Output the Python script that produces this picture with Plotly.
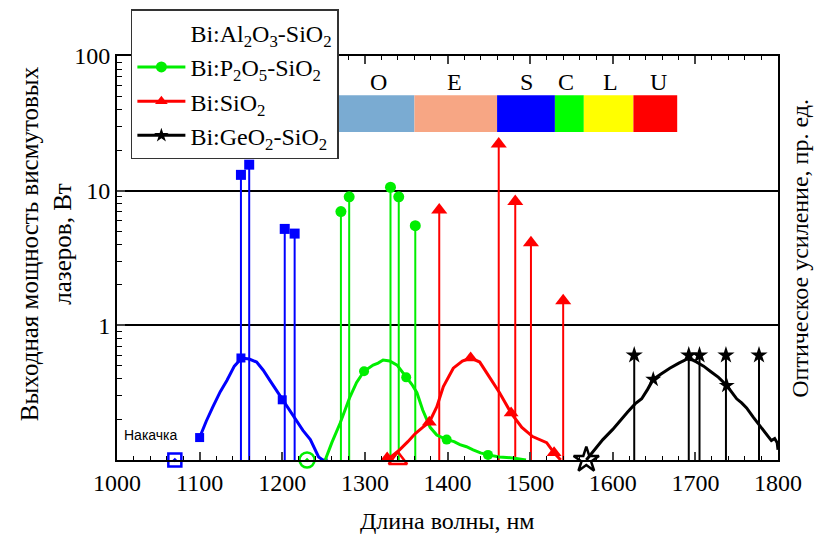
import plotly.graph_objects as go

# ---------------- data ----------------
# laser output lines (wavelength nm, power W)
al_laser_wl = [1150, 1160, 1203, 1215]
al_laser_pw = [13.1, 15.6, 5.2, 4.8]
p_laser_wl = [1271, 1281, 1331, 1341, 1361]
p_laser_pw = [7.0, 9.0, 10.6, 9.0, 5.5]
si_laser_wl = [1390, 1462, 1482, 1501, 1540]
si_laser_pw = [7.2, 22.2, 8.3, 4.1, 1.52]
ge_laser_wl = [1626, 1692, 1705, 1737, 1777]
ge_laser_pw = [0.6, 0.6, 0.6, 0.6, 0.6]

# optical gain curves (arb. units)
al_gain_wl = [1100, 1108, 1116, 1125, 1133, 1142, 1151, 1160, 1169, 1177, 1185, 1193,
              1200, 1209, 1217, 1225, 1234, 1244, 1249, 1255]
al_gain = [0.22, 0.38, 0.52, 0.67, 0.78, 0.92, 1.0, 0.99, 0.96, 0.88, 0.78, 0.68,
           0.59, 0.49, 0.39, 0.29, 0.2, 0.03, 0.0, 0.0]
p_gain_wl = [1252, 1260, 1270, 1282, 1290, 1299, 1310, 1316, 1322, 1330, 1339, 1350,
             1357, 1363, 1370, 1379, 1387, 1399, 1408, 1415, 1423, 1431, 1440, 1449,
             1463, 1479, 1495]
p_gain = [0.0, 0.17, 0.36, 0.62, 0.76, 0.87, 0.93, 0.95, 0.98, 0.97, 0.93, 0.81,
          0.74, 0.66, 0.49, 0.32, 0.245, 0.2, 0.18, 0.15, 0.13, 0.1, 0.07, 0.05,
          0.03, 0.02, 0.0]
si_gain_wl = [1327, 1335, 1342, 1352, 1361, 1370, 1378, 1387, 1395, 1407, 1418, 1428,
              1439, 1451, 1463, 1477, 1490, 1503, 1520, 1529, 1537]
si_gain = [0.0, 0.05, 0.1, 0.18, 0.26, 0.32, 0.37, 0.52, 0.72, 0.9, 0.97, 1.0,
           0.96, 0.81, 0.66, 0.46, 0.32, 0.23, 0.17, 0.07, 0.0]
ge_gain_wl = [1568, 1575, 1588, 1600, 1609, 1618, 1627, 1635, 1642, 1649, 1658, 1669,
              1680, 1690, 1697, 1702, 1710, 1718, 1728, 1738, 1745, 1750, 1756, 1762,
              1770, 1778, 1784, 1788, 1792, 1796, 1799, 1800]
ge_gain = [0.0, 0.07, 0.2, 0.3, 0.39, 0.47, 0.55, 0.6, 0.69, 0.79, 0.84, 0.9,
           0.95, 0.99, 0.98, 0.96, 0.92, 0.87, 0.81, 0.73, 0.65, 0.6, 0.56, 0.51,
           0.42, 0.34, 0.27, 0.23, 0.19, 0.21, 0.17, 0.1]

# symbols on gain curves
al_sym_wl = [1100, 1150, 1200]
al_sym = [0.22, 1.0, 0.59]
p_sym_wl = [1299, 1350, 1399, 1449]
p_sym = [0.87, 0.81, 0.2, 0.05]
si_sym_wl = [1327, 1378, 1428, 1477, 1529]
si_sym = [0.02, 0.37, 1.0, 0.46, 0.07]
ge_sym_wl = [1649, 1738]
ge_sym = [0.79, 0.73]

# pump wavelengths
pump_wl = [1070, 1230, 1340, 1568]
pump_label = "Накачка"
pump_label_wl = 1041

# telecom bands
band_names = ["O", "E", "S", "C", "L", "U"]
band_start = [1260, 1360, 1460, 1530, 1565, 1625]
band_end = [1360, 1460, 1530, 1565, 1625, 1678]
band_label_x = [1316, 1409, 1496, 1544, 1597, 1655]
band_colors = ["#7aabd2", "#f7a684", "#0000ff", "#00ff00", "#ffff00", "#ff0000"]

legend_names = ["Bi:Al<sub>2</sub>O<sub>3</sub>-SiO<sub>2</sub>",
                "Bi:P<sub>2</sub>O<sub>5</sub>-SiO<sub>2</sub>",
                "Bi:SiO<sub>2</sub>",
                "Bi:GeO<sub>2</sub>-SiO<sub>2</sub>"]

BLUE, GREEN, RED, BLACK = "#0000ff", "#00ee00", "#ff0000", "#000000"
SERIF = "Liberation Serif"

fig = go.Figure()

def stems(wl, pw):
    xs, ys = [], []
    for w, p in zip(wl, pw):
        xs += [w, w, None]
        ys += [0.1, p, None]
    return xs, ys

series = [
    (al_laser_wl, al_laser_pw, al_gain_wl, al_gain, al_sym_wl, al_sym, BLUE, "square", 10),
    (p_laser_wl, p_laser_pw, p_gain_wl, p_gain, p_sym_wl, p_sym, GREEN, "circle", 11),
    (si_laser_wl, si_laser_pw, si_gain_wl, si_gain, si_sym_wl, si_sym, RED, "triangle-up", 14),
    (ge_laser_wl, ge_laser_pw, ge_gain_wl, ge_gain, ge_sym_wl, ge_sym, BLACK, "star", 13),
]

for lw, lp, gw, g, sw, s, col, sym, msz in series:
    xs, ys = stems(lw, lp)
    fig.add_trace(go.Scatter(x=xs, y=ys, mode="lines", line=dict(color=col, width=2),
                             showlegend=False, hoverinfo="skip"))
    fig.add_trace(go.Scatter(x=lw, y=lp, mode="markers",
                             marker=dict(symbol=sym, size=msz, color=col, line=dict(width=0)),
                             showlegend=False, cliponaxis=False))
    fig.add_trace(go.Scatter(x=gw, y=g, yaxis="y2", mode="lines",
                             line=dict(color=col, width=3), showlegend=False))
    fig.add_trace(go.Scatter(x=sw, y=s, yaxis="y2", mode="markers",
                             marker=dict(symbol=sym, size=msz - 1, color=col, line=dict(width=0)),
                             showlegend=False))

# pump markers
pump_syms = ["square-open-dot", "circle-open-dot", "triangle-up-open", "star-open"]
pump_cols = [BLUE, GREEN, RED, BLACK]
pump_sizes = [13, 15, 16, 19]
for w, sy, c, sz in zip(pump_wl, pump_syms, pump_cols, pump_sizes):
    fig.add_trace(go.Scatter(x=[w], y=[0], yaxis="y2", mode="markers", cliponaxis=False,
                             marker=dict(symbol=sy, size=sz, color=c,
                                         line=dict(color=c, width=2.5)),
                             showlegend=False))

# legend-only traces
leg_cols = ["rgba(0,0,0,0)", GREEN, RED, BLACK]
leg_syms = ["circle", "circle", "triangle-up", "star"]
for name, c, sy in zip(legend_names, leg_cols, leg_syms):
    fig.add_trace(go.Scatter(x=[None], y=[None], mode="lines+markers", name=name,
                             line=dict(color=c, width=3),
                             marker=dict(symbol=sy, size=11, color=c)))

# bands
shapes = []
for b0, b1, c in zip(band_start, band_end, band_colors):
    shapes.append(dict(type="rect", xref="x", yref="paper", x0=b0, x1=b1,
                       y0=0.812, y1=0.903, fillcolor=c, line=dict(width=0), layer="below"))

annotations = []
for n, x in zip(band_names, band_label_x):
    annotations.append(dict(x=x, y=0.936, xref="x", yref="paper", text=n, showarrow=False,
                            xanchor="center", yanchor="middle",
                            font=dict(family=SERIF, size=24, color="black")))

annotations.append(dict(x=pump_label_wl, y=0.062, xref="x", yref="paper", text=pump_label,
                        showarrow=False, xanchor="center", yanchor="middle",
                        font=dict(family="Liberation Sans", size=14, color="black")))
annotations.append(dict(x=-0.107, y=0.535, xref="paper", yref="paper", textangle=-90,
                        xanchor="center", yanchor="middle",
                        text="Выходная мощность висмутовых<br>лазеров, Вт", showarrow=False,
                        font=dict(family=SERIF, size=25, color="black")))
annotations.append(dict(x=1.033, y=0.525, xref="paper", yref="paper", textangle=-90,
                        xanchor="center", yanchor="middle",
                        text="Оптическое усиление, пр. ед.", showarrow=False,
                        font=dict(family=SERIF, size=24, color="black")))
annotations.append(dict(x=0.5, y=-0.152, xref="paper", yref="paper",
                        xanchor="center", yanchor="middle",
                        text="Длина волны, нм", showarrow=False,
                        font=dict(family=SERIF, size=24, color="black")))

minor_y = [v * m for m in (0.1, 1, 10) for v in range(2, 10)]

fig.update_layout(
    width=816, height=534,
    margin=dict(l=117, r=38, t=56, b=74, autoexpand=False),
    plot_bgcolor="white", paper_bgcolor="white",
    font=dict(family=SERIF, size=24, color="black"),
    shapes=shapes, annotations=annotations,
    legend=dict(x=0.021, y=1.116, xanchor="left", yanchor="top",
                bgcolor="white", bordercolor="#333333", borderwidth=1.5,
                font=dict(family=SERIF, size=24, color="black"),
                tracegroupgap=0, itemwidth=48),
    xaxis=dict(range=[1000, 1800], dtick=100, tick0=1000, ticks="inside", ticklen=8,
               tickwidth=1.5, showline=True, linecolor="black", linewidth=2,
               mirror="ticks", showgrid=False, zeroline=False,
               tickfont=dict(family=SERIF, size=24),
               minor=dict(dtick=20, ticks="inside", ticklen=4, tickwidth=1.2,
                          tickcolor="black", showgrid=False)),
    yaxis=dict(type="log", range=[-1, 2], tickvals=[1, 10, 100], ticktext=["1", "10", "100"],
               ticks="inside", ticklen=8, tickwidth=1.5, showline=True, linecolor="black",
               linewidth=2, mirror=True, showgrid=True, gridcolor="black", gridwidth=1.5,
               zeroline=False, tickfont=dict(family=SERIF, size=24),
               minor=dict(tickvals=minor_y, ticks="inside", ticklen=5, tickwidth=1.2,
                          tickcolor="black", showgrid=False)),
    yaxis2=dict(overlaying="y", side="right", range=[0, 3.96], showticklabels=False,
                ticks="", showgrid=False, zeroline=False, showline=False),
)

fig.write_html("out.html", config={"displayModeBar": False},
               post_script="document.body.style.margin='0';document.body.style.overflow='hidden';")
